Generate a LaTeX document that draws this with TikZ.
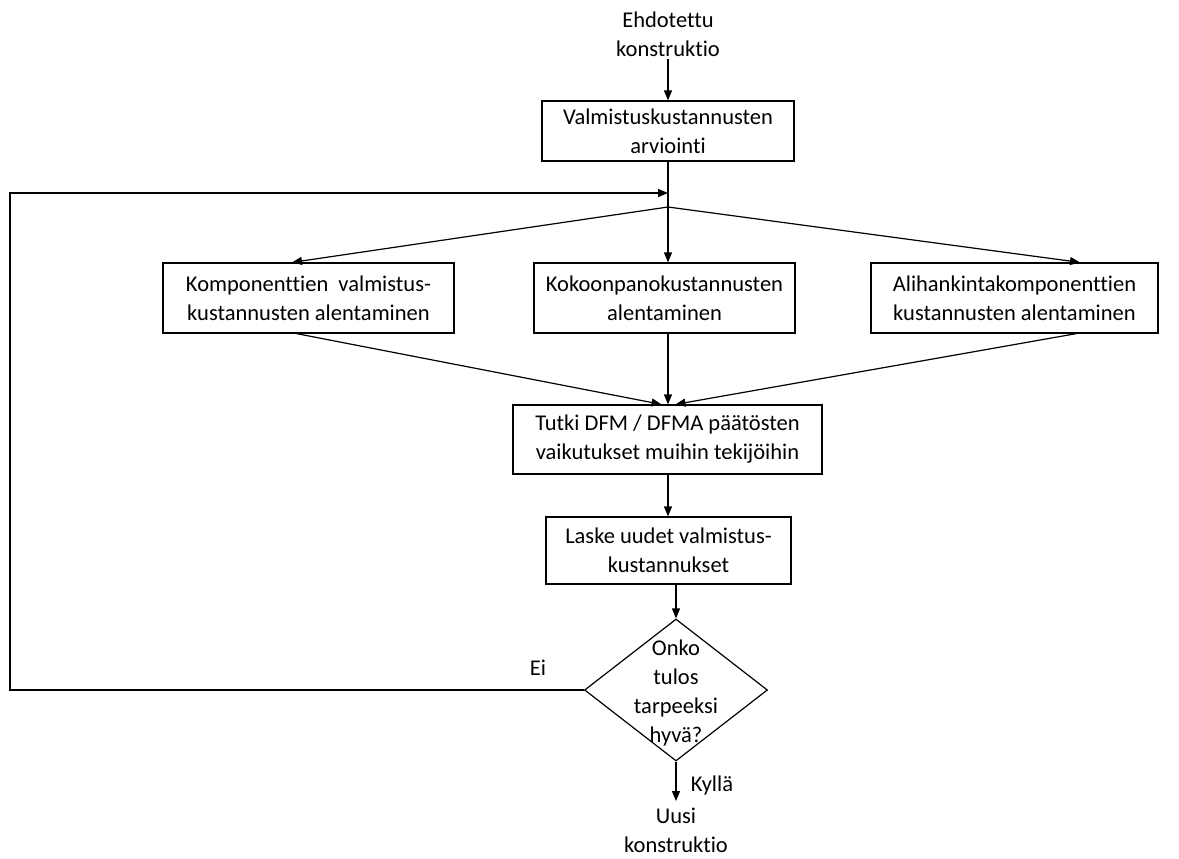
\documentclass[tikz,border=0pt]{standalone}
\usepackage{fontspec}
\setmainfont{Carlito}[Ligatures={NoCommon}]
\usetikzlibrary{shapes.geometric,arrows.meta}
\begin{document}
\begin{tikzpicture}[x=1pt,y=-1pt,line width=1.2pt,
  box/.style={draw,line width=1.2pt,align=center,inner sep=0pt,font=\fontsize{22.5}{29}\selectfont},
  lbl/.style={align=center,inner sep=2pt,font=\fontsize{22.5}{29}\selectfont},
  arr/.style={-{Triangle[length=10pt,width=8pt]}}]
\useasboundingbox (0,0) rectangle (1179,859);
\node[lbl] (start) at (668,34) {Ehdotettu\\konstruktio};
\node[box,minimum width=252pt,minimum height=60pt] (b1) at (668,131) {Valmistuskustannusten\\arviointi};
\coordinate (j1) at (668,193);
\coordinate (j2) at (668,207);
\coordinate (c1) at (10,193);
\node[box,minimum width=291pt,minimum height=70pt] (bl) at (308.5,298) {Komponenttien\ \ valmistus-\\kustannusten alentaminen};
\node[box,minimum width=261pt,minimum height=70pt] (bc) at (664.5,298) {Kokoonpanokustannusten\\alentaminen};
\node[box,minimum width=287pt,minimum height=70pt] (br) at (1014.5,298) {Alihankintakomponenttien\\kustannusten alentaminen};
\node[box,minimum width=309pt,minimum height=69pt] (bt) at (667.5,439.5) {Tutki DFM / DFMA päätösten\\vaikutukset muihin tekijöihin};
\node[box,minimum width=245pt,minimum height=67pt] (bl2) at (668.5,550.5) {Laske uudet valmistus-\\kustannukset};
\node[draw,diamond,line width=1.2pt,minimum width=183pt,minimum height=142pt,inner sep=0pt,aspect=1.29] (d) at (676,690) {};
\node[lbl] (dt) at ([yshift=-3pt]d.center) {Onko\\tulos\\tarpeeksi\\hyvä?};
\node[lbl,inner sep=0pt] (end) at (676,830) {Uusi\\konstruktio};
\node[lbl] (ei) at (538,668) {Ei};
\node[lbl] (ky) at (712,785) {Kyllä};

\draw[arr] (start) -- (b1);
\draw (b1.south) -- (j2);
\draw[arr] (d.west) -| (c1) -- (j1);
\draw[arr] (j2) -- ([xshift=-16.5pt]bl.north);
\draw[arr] (j2) -- (j2 |- bc.north);
\draw[arr] (j2) -- ([xshift=65.5pt]br.north);
\draw[arr] ([xshift=-12pt]bl.south) -- ([xshift=-6pt]bt.north);
\draw[arr] (j2 |- bc.south) -- (j2 |- bt.north);
\draw[arr] ([xshift=62pt]br.south) -- ([xshift=8pt]bt.north);
\draw[arr] (j2 |- bt.south) -- (j2 |- bl2.north);
\draw[arr] (d.north |- bl2.south) -- (d.north);
\draw[arr] (d.south) -- ([yshift=6pt]end.north);
\end{tikzpicture}
\end{document}
